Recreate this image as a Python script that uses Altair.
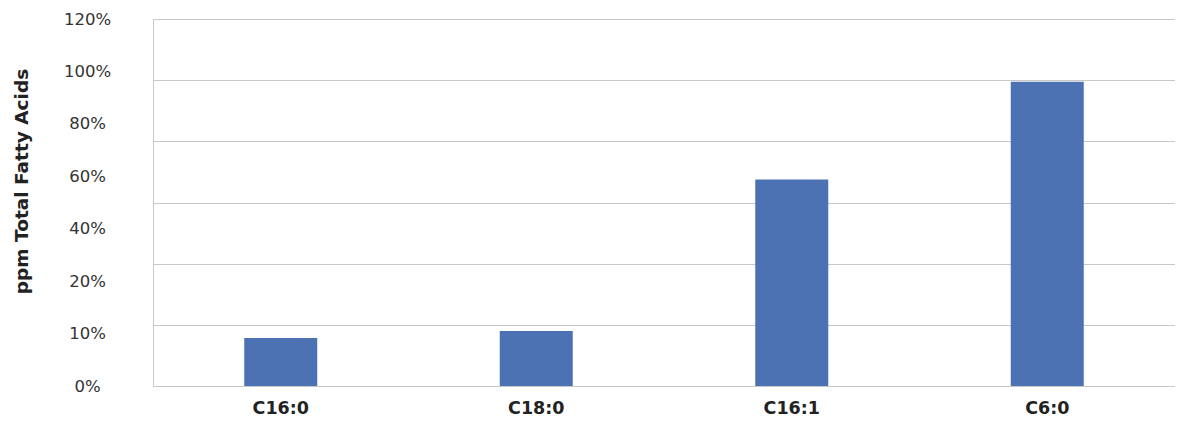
import altair as alt
import pandas as pd

categories = ["C16:0", "C18:0", "C16:1", "C6:0"]
values = [15.7, 18.0, 67.5, 99.5]
tick_labels = ["120%", "100%", "80%", "60%", "40%", "20%", "10%", "0%"]
grid_values = [0, 20, 40, 60, 80, 100, 120]

bars_df = pd.DataFrame({"acid": categories, "value": values})
labels_df = pd.DataFrame({"label": tick_labels})

FONT = "DejaVu Sans"
GRID = "#c8c8c8"

bars = alt.Chart(bars_df).mark_bar(color="#4C72B4", size=73).encode(
    x=alt.X(
        "acid:N", sort=categories, title=None,
        axis=alt.Axis(labelAngle=0, labelFont=FONT, labelFontSize=17.5, labelFontWeight="bold",
                      labelColor="#222222", labelPadding=13, ticks=False,
                      domainColor=GRID, grid=False),
    ),
    y=alt.Y(
        "value:Q", scale=alt.Scale(domain=[0, 120], nice=False),
        axis=alt.Axis(values=grid_values, labels=False, ticks=False, domain=False,
                      grid=True, gridColor=GRID, title=None, orient="left"),
    ),
)

label_axis = alt.Chart(labels_df).mark_point(opacity=0).encode(
    y=alt.Y(
        "label:N", sort=tick_labels,
        scale=alt.Scale(type="point", padding=0),
        axis=alt.Axis(orient="left", title="ppm Total Fatty Acids", ticks=False,
                      domainColor=GRID, grid=False, labelFont=FONT, labelFontSize=16.5,
                      labelColor="#333333", labelAlign="center", labelPadding=66,
                      titleFont=FONT, titleFontSize=18.5, titleFontWeight="bold",
                      titleColor="#222222", titlePadding=32, titleY=162),
    ),
)

chart = alt.layer(bars, label_axis).resolve_scale(y="independent").properties(
    width=1022, height=367,
    autosize=alt.AutoSizeParams(type="none"),
    padding={"left": 145, "top": 11, "right": 0, "bottom": 30},
).configure_view(stroke=None)

chart.save("out.html", embed_options={"renderer": "svg", "actions": False})
